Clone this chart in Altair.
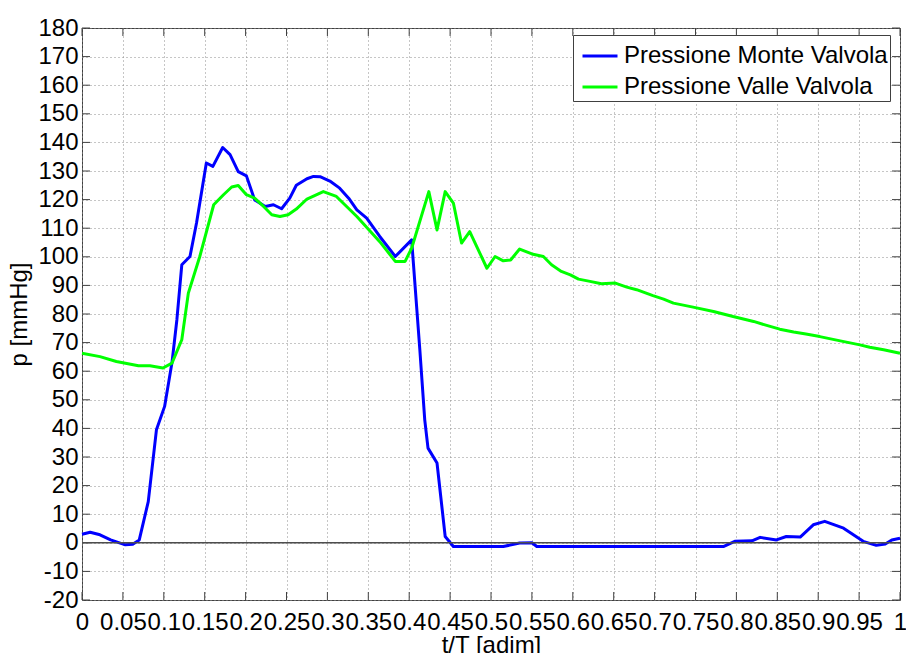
import altair as alt
import pandas as pd

# Pressione a monte della valvola (t/T, mmHg)
t_monte = [0.0, 0.01, 0.022, 0.035, 0.053, 0.062, 0.07, 0.081, 0.091, 0.101,
           0.11, 0.116, 0.122, 0.132, 0.14, 0.152, 0.16, 0.172, 0.181, 0.191,
           0.201, 0.211, 0.224, 0.234, 0.244, 0.254, 0.262, 0.275, 0.283, 0.291,
           0.303, 0.315, 0.326, 0.336, 0.348, 0.364, 0.383, 0.403, 0.413, 0.419,
           0.423, 0.434, 0.444, 0.454, 0.515, 0.535, 0.55, 0.556, 0.784, 0.798,
           0.819, 0.829, 0.849, 0.861, 0.878, 0.894, 0.908, 0.931, 0.955, 0.971,
           0.982, 0.99, 1.0]
p_monte = [3.0, 3.7, 2.8, 1.0, -0.7, -0.5, 1.0, 14.4, 39.5, 47.7,
           63.0, 78.0, 97.2, 100.1, 111.8, 132.8, 131.6, 138.2, 135.7, 129.8,
           128.3, 119.9, 117.6, 118.2, 116.8, 120.5, 125.0, 127.3, 128.1, 128.0,
           126.5, 124.0, 120.5, 116.4, 113.5, 107.1, 100.1, 105.9, 67.5, 43.0,
           33.1, 27.9, 2.2, -1.3, -1.3, -0.1, 0.0, -1.3, -1.3, 0.5,
           0.7, 1.9, 1.0, 2.2, 2.0, 6.3, 7.5, 5.1, 0.5, -0.9,
           -0.4, 1.0, 1.6]

# Pressione a valle della valvola (t/T, mmHg)
t_valle = [0.0, 0.022, 0.042, 0.069, 0.083, 0.099, 0.11, 0.122, 0.13, 0.144,
           0.161, 0.173, 0.183, 0.191, 0.201, 0.211, 0.222, 0.232, 0.242, 0.252,
           0.262, 0.275, 0.295, 0.311, 0.336, 0.364, 0.383, 0.395, 0.403, 0.424,
           0.434, 0.444, 0.454, 0.464, 0.474, 0.495, 0.505, 0.515, 0.524, 0.535,
           0.55, 0.564, 0.574, 0.586, 0.597, 0.607, 0.621, 0.635, 0.652, 0.666,
           0.678, 0.698, 0.711, 0.723, 0.747, 0.772, 0.796, 0.821, 0.837, 0.853,
           0.87, 0.885, 0.902, 0.927, 0.951, 0.963, 0.98, 1.0]
p_valle = [66.3, 65.1, 63.4, 61.9, 61.9, 61.1, 62.8, 71.0, 87.3, 100.1,
           118.2, 121.7, 124.4, 124.9, 121.7, 120.5, 117.6, 114.7, 114.1, 114.7,
           116.7, 120.2, 122.8, 121.1, 114.1, 105.3, 98.4, 98.4, 103.0, 122.8,
           109.4, 122.8, 118.8, 104.8, 108.8, 96.0, 100.1, 98.6, 98.9, 102.7,
           101.0, 100.1, 97.2, 94.9, 93.7, 92.2, 91.4, 90.6, 90.8, 89.4,
           88.5, 86.4, 85.2, 83.8, 82.4, 80.9, 79.1, 77.4, 76.0, 74.7,
           73.7, 73.0, 72.1, 70.6, 69.2, 68.4, 67.5, 66.3]

series_names = ["Pressione Monte Valvola", "Pressione Valle Valvola"]
series_colors = ["#0000ff", "#00ff00"]

x_ticks = [0, 0.05, 0.1, 0.15, 0.2, 0.25, 0.3, 0.35, 0.4, 0.45, 0.5,
           0.55, 0.6, 0.65, 0.7, 0.75, 0.8, 0.85, 0.9, 0.95, 1]
y_ticks = [-20, -10, 0, 10, 20, 30, 40, 50, 60, 70, 80, 90,
           100, 110, 120, 130, 140, 150, 160, 170, 180]

W, H = 818, 572
FONT = "Liberation Sans"

df = pd.concat([
    pd.DataFrame({"t": t_monte, "p": p_monte, "serie": series_names[0]}),
    pd.DataFrame({"t": t_valle, "p": p_valle, "serie": series_names[1]}),
], ignore_index=True)
df["ordine"] = range(len(df))

x_scale = alt.Scale(domain=[0, 1], nice=False, zero=False)
y_scale = alt.Scale(domain=[-20, 180], nice=False, zero=False)

x_axis = alt.Axis(values=x_ticks, format=".2~f", title="t/T [adim]",
                  labelFontSize=24, labelFont=FONT, labelColor="black",
                  labelOverlap=False, labelFlush=False, labelBound=False,
                  labelPadding=10, ticks=False, tickSize=0, domain=False,
                  grid=True, gridDash=[1, 3], gridColor="#8c8c8c", gridWidth=1,
                  titleFont=FONT, titleFontSize=24, titleFontWeight="normal",
                  titleColor="black", titleX=W / 2, titleY=33,
                  titleAlign="center", titleBaseline="top")
y_axis = alt.Axis(values=y_ticks, title="p [mmHg]",
                  labelExpr="datum.value + ''",
                  labelFontSize=24, labelFont=FONT, labelColor="black",
                  labelOverlap=False, labelFlush=False, labelBound=False,
                  labelPadding=4, ticks=False, tickSize=0, domain=False,
                  grid=True, gridDash=[1, 3], gridColor="#8c8c8c", gridWidth=1,
                  titleFont=FONT, titleFontSize=24, titleFontWeight="normal",
                  titleColor="black", titleX=-63, titleY=H / 2,
                  titleAngle=270, titleAlign="center", titleBaseline="middle")

X = alt.X("t:Q", scale=x_scale, axis=x_axis)
Y = alt.Y("p:Q", scale=y_scale, axis=y_axis)

lines = alt.Chart(df).mark_line(strokeWidth=3, strokeJoin="round").encode(
    x=X,
    y=Y,
    order="ordine:Q",
    color=alt.Color(
        "serie:N",
        scale=alt.Scale(domain=series_names, range=series_colors),
        legend=alt.Legend(
            title=None, orient="none", legendX=491, legendY=7,
            direction="vertical", fillColor="white", strokeColor="#404040",
            padding=2, rowPadding=-3, labelFont=FONT, labelFontSize=24,
            labelColor="black", labelLimit=0, labelOffset=5, symbolOffset=6,
            symbolType="stroke", symbolSize=1225, symbolStrokeWidth=3,
        ),
    ),
)

# Linea dello zero
zero_line = alt.Chart(pd.DataFrame({"p": [0]})).mark_rule(
    color="#4d4d4d", strokeWidth=1.5
).encode(y=Y)

# Tacche interne sui quattro lati del riquadro
xt = pd.DataFrame({"t": x_ticks})
yt = pd.DataFrame({"p": y_ticks})
tick_style = dict(color="#404040", strokeWidth=1)
ticks_bottom = alt.Chart(xt).mark_rule(**tick_style).encode(
    x=X, y=alt.value(H), y2=alt.value(H - 8))
ticks_top = alt.Chart(xt).mark_rule(**tick_style).encode(
    x=X, y=alt.value(0), y2=alt.value(8))
ticks_left = alt.Chart(yt).mark_rule(**tick_style).encode(
    y=Y, x=alt.value(0), x2=alt.value(8))
ticks_right = alt.Chart(yt).mark_rule(**tick_style).encode(
    y=Y, x=alt.value(W), x2=alt.value(W - 8))

chart = alt.layer(
    lines, ticks_bottom, ticks_top, ticks_left, ticks_right, zero_line
).properties(
    width=W, height=H,
    padding={"left": 82, "top": 28, "right": 6, "bottom": 53},
    autosize=alt.AutoSizeParams(type="none"),
    background="white",
).configure_view(
    stroke="#404040", strokeWidth=1
)

chart.save("out.html", embed_options={"renderer": "svg", "actions": False})
